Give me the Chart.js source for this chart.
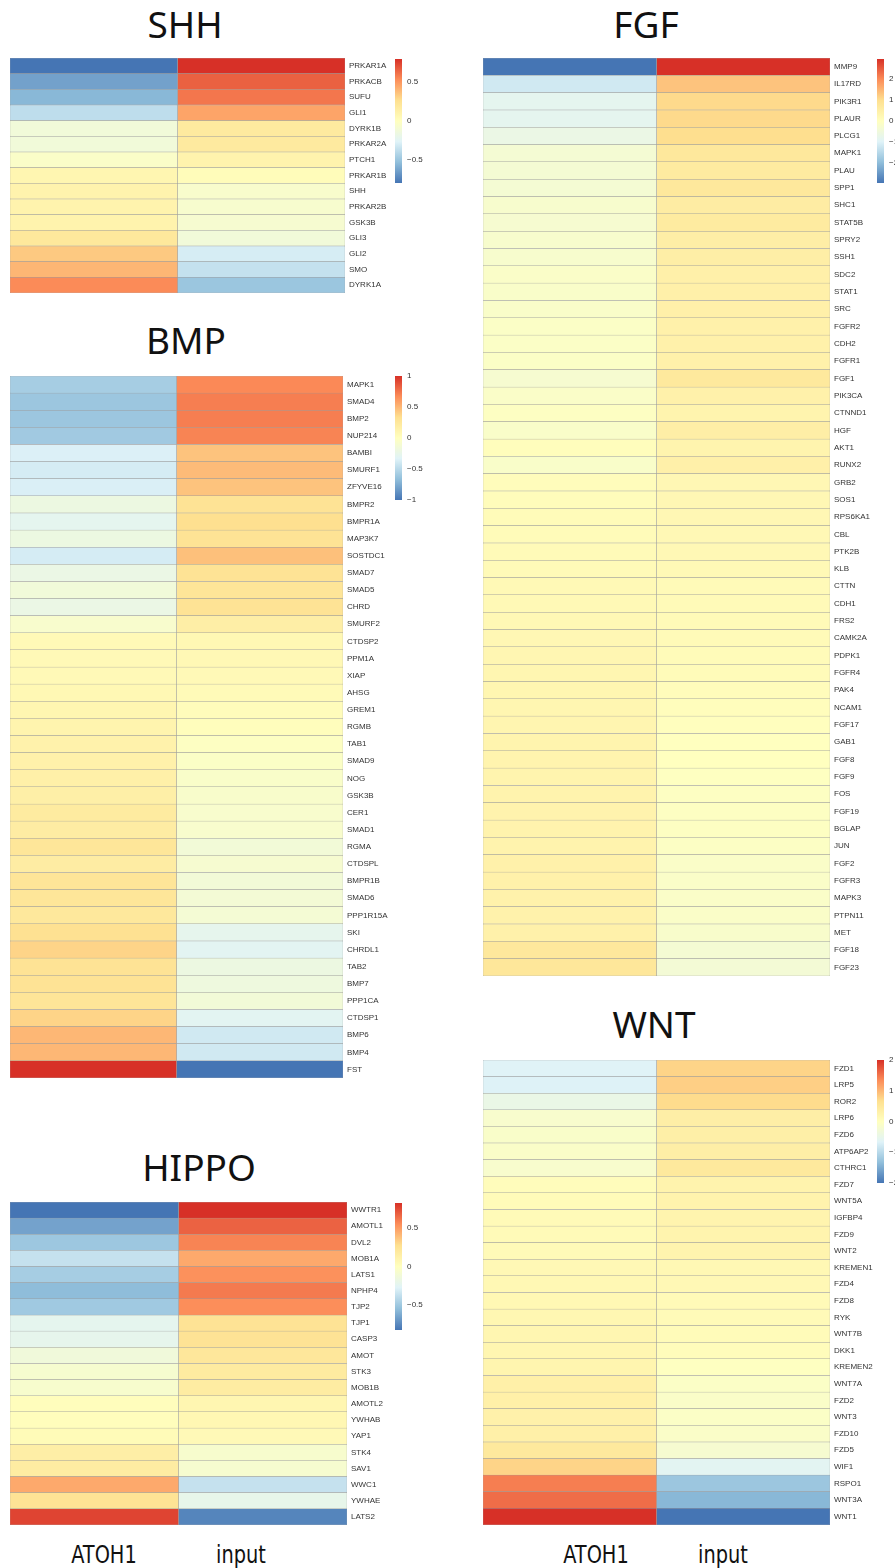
<!DOCTYPE html>
<html>
<head>
<meta charset="utf-8">
<script src="https://cdn.jsdelivr.net/npm/chart.js@4.4.0/dist/chart.umd.min.js"></script>
<style>
body { margin: 0; background: #fff; width: 895px; height: 1568px; position: relative; overflow: hidden; }
canvas { position: absolute; }
.title { position: absolute; font-family: "Noto Sans", "Open Sans", sans-serif; font-size: 37px; line-height: 1; color: #111; transform: translateX(-50%); white-space: nowrap; }
.col { position: absolute; font-family: "Liberation Sans Narrow", "DejaVu Sans Condensed", sans-serif; font-size: 25px; line-height: 1; color: #111; transform: translateX(-50%) scaleX(0.86); white-space: nowrap; }
</style>
</head>
<body>
<div class="title" style="left:185px; top:5px">SHH</div>
<div class="title" style="left:186px; top:321px">BMP</div>
<div class="title" style="left:199px; top:1148px">HIPPO</div>
<div class="title" style="left:646px; top:5px">FGF</div>
<div class="title" style="left:654px; top:1005px">WNT</div>

<div class="col" style="left:104px; top:1542px">ATOH1</div>
<div class="col" style="left:241px; top:1542px">input</div>
<div class="col" style="left:596px; top:1542px">ATOH1</div>
<div class="col" style="left:723px; top:1542px">input</div>

<canvas id="shh" width="380" height="235" style="left:10px; top:58px"></canvas>
<canvas id="bmp" width="380" height="702" style="left:10px; top:376px"></canvas>
<canvas id="hippo" width="384" height="323" style="left:10px; top:1202px"></canvas>
<canvas id="fgf" width="392" height="918" style="left:483px; top:58px"></canvas>
<canvas id="wnt" width="392" height="465" style="left:483px; top:1060px"></canvas>

<canvas id="shhKey" width="45" height="136" style="left:395px; top:53px"></canvas>
<canvas id="bmpKey" width="45" height="136" style="left:395px; top:370px"></canvas>
<canvas id="hippoKey" width="45" height="139" style="left:395px; top:1197px"></canvas>
<canvas id="fgfKey" width="30" height="136" style="left:877px; top:53px"></canvas>
<canvas id="wntKey" width="30" height="135" style="left:877px; top:1054px"></canvas>

<script>
// row-centred expression per pathway, columns ATOH1 / input
const shhGenes = ['PRKAR1A','PRKACB','SUFU','GLI1','DYRK1B','PRKAR2A','PTCH1','PRKAR1B','SHH','PRKAR2B','GSK3B','GLI3','GLI2','SMO','DYRK1A'];
const shhAtoh1 = [-0.8,-0.64,-0.56,-0.38,-0.12,-0.12,-0.04,0.08,0.1,0.1,0.1,0.2,0.34,0.4,0.54];
const shhInput = [0.8,0.66,0.6,0.46,0.18,0.18,0.1,0.03,-0.06,-0.07,-0.08,-0.12,-0.3,-0.36,-0.5];

const bmpGenes = ['MAPK1','SMAD4','BMP2','NUP214','BAMBI','SMURF1','ZFYVE16','BMPR2','BMPR1A','MAP3K7','SOSTDC1','SMAD7','SMAD5','CHRD','SMURF2','CTDSP2','PPM1A','XIAP','AHSG','GREM1','RGMB','TAB1','SMAD9','NOG','GSK3B','CER1','SMAD1','RGMA','CTDSPL','BMPR1B','SMAD6','PPP1R15A','SKI','CHRDL1','TAB2','BMP7','PPP1CA','CTDSP1','BMP6','BMP4','FST'];
const bmpAtoh1 = [-0.58,-0.62,-0.62,-0.6,-0.35,-0.38,-0.36,-0.2,-0.28,-0.2,-0.38,-0.22,-0.15,-0.22,-0.08,0.06,0.06,0.06,0.08,0.1,0.12,0.14,0.15,0.16,0.17,0.22,0.2,0.27,0.2,0.28,0.27,0.25,0.32,0.38,0.3,0.3,0.28,0.38,0.5,0.5,1.0];
const bmpInput = [0.68,0.72,0.72,0.7,0.45,0.48,0.45,0.3,0.33,0.3,0.46,0.3,0.28,0.3,0.18,0.08,0.07,0.06,0.05,0.03,0.02,-0.02,-0.04,-0.06,-0.07,-0.08,-0.08,-0.14,-0.1,-0.14,-0.13,-0.12,-0.27,-0.3,-0.2,-0.18,-0.14,-0.3,-0.4,-0.4,-1.0];

const hippoGenes = ['WWTR1','AMOTL1','DVL2','MOB1A','LATS1','NPHP4','TJP2','TJP1','CASP3','AMOT','STK3','MOB1B','AMOTL2','YWHAB','YAP1','STK4','SAV1','WWC1','YWHAE','LATS2'];
const hippoAtoh1 = [-0.83,-0.66,-0.51,-0.37,-0.48,-0.56,-0.5,-0.23,-0.22,-0.13,-0.08,-0.07,0.02,0.02,0.04,0.15,0.17,0.46,0.25,0.77];
const hippoInput = [0.83,0.68,0.58,0.46,0.54,0.61,0.55,0.25,0.25,0.21,0.18,0.17,0.08,0.07,0.05,-0.07,-0.08,-0.37,-0.21,-0.77];

const fgfGenes = ['MMP9','IL17RD','PIK3R1','PLAUR','PLCG1','MAPK1','PLAU','SPP1','SHC1','STAT5B','SPRY2','SSH1','SDC2','STAT1','SRC','FGFR2','CDH2','FGFR1','FGF1','PIK3CA','CTNND1','HGF','AKT1','RUNX2','GRB2','SOS1','RPS6KA1','CBL','PTK2B','KLB','CTTN','CDH1','FRS2','CAMK2A','PDPK1','FGFR4','PAK4','NCAM1','FGF17','GAB1','FGF8','FGF9','FOS','FGF19','BGLAP','JUN','FGF2','FGFR3','MAPK3','PTPN11','MET','FGF18','FGF23'];
const fgfAtoh1 = [-2.95,-1.18,-0.83,-0.83,-0.65,-0.35,-0.35,-0.35,-0.24,-0.3,-0.24,-0.24,-0.15,-0.18,-0.18,-0.12,-0.12,-0.12,-0.3,-0.15,-0.06,-0.18,0.06,-0.18,0.09,0.09,0.12,0.12,0.15,0.15,0.18,0.18,0.21,0.24,0.27,0.3,0.3,0.3,0.32,0.35,0.35,0.35,0.38,0.38,0.38,0.38,0.44,0.44,0.41,0.41,0.44,0.74,0.77];
const fgfInput = [2.95,1.33,1.06,1.06,1.0,0.74,0.65,0.74,0.59,0.65,0.53,0.53,0.47,0.47,0.47,0.44,0.44,0.44,0.71,0.44,0.35,0.53,0.35,0.47,0.24,0.24,0.24,0.21,0.21,0.18,0.15,0.15,0.15,0.15,0.12,0.12,0.09,0.06,0.03,0,0,-0.03,-0.06,-0.06,-0.06,-0.09,-0.15,-0.15,-0.15,-0.15,-0.21,-0.35,-0.38];

const wntGenes = ['FZD1','LRP5','ROR2','LRP6','FZD6','ATP6AP2','CTHRC1','FZD7','WNT5A','IGFBP4','FZD9','WNT2','KREMEN1','FZD4','FZD8','RYK','WNT7B','DKK1','KREMEN2','WNT7A','FZD2','WNT3','FZD10','FZD5','WIF1','RSPO1','WNT3A','WNT1'];
const wntAtoh1 = [-0.66,-0.68,-0.46,-0.16,-0.12,-0.1,-0.16,0.06,0.08,0.1,0.1,0.1,0.14,0.16,0.16,0.18,0.2,0.2,0.22,0.32,0.32,0.3,0.32,0.48,0.76,1.44,1.56,2.0];
const wntInput = [0.76,0.8,0.7,0.36,0.34,0.36,0.48,0.26,0.26,0.24,0.24,0.24,0.16,0.14,0.1,0.1,0.08,0.06,-0.02,-0.08,-0.1,-0.08,-0.1,-0.2,-0.6,-1.24,-1.4,-2.0];

const columns = ['ATOH1', 'input'];
const palette = ['#4575B4','#91BFDB','#E0F3F8','#FFFFBF','#FEE090','#FC8D59','#D73027'];

function hexRgb(h) {
    return [parseInt(h.slice(1, 3), 16), parseInt(h.slice(3, 5), 16), parseInt(h.slice(5, 7), 16)];
}
const paletteRgb = palette.map(hexRgb);

function ramp(t) {
    t = Math.max(0, Math.min(1, t));
    const s = t * (paletteRgb.length - 1);
    const i = Math.min(Math.floor(s), paletteRgb.length - 2);
    const f = s - i;
    const a = paletteRgb[i], b = paletteRgb[i + 1];
    const c = a.map((v, k) => Math.round(v + (b[k] - v) * f));
    return `rgb(${c[0]},${c[1]},${c[2]})`;
}

const labelFont = { family: '"Liberation Sans", Arial, sans-serif', size: 8 };

function drawHeatmap(id, genes, atoh1, input, labelWidth) {
    const lo = Math.min(...atoh1, ...input);
    const hi = Math.max(...atoh1, ...input);
    const colour = v => ramp((v - lo) / (hi - lo));
    new Chart(document.getElementById(id), {
        type: 'bar',
        data: {
            labels: genes,
            datasets: [atoh1, input].map((vals, col) => ({
                label: columns[col],
                data: vals.map(() => [col, col + 1]),
                backgroundColor: vals.map(colour),
                borderColor: '#9c9c9c',
                borderWidth: 0.5,
                borderSkipped: false
            }))
        },
        options: {
            indexAxis: 'y',
            responsive: false,
            animation: false,
            grouped: false,
            barPercentage: 1,
            categoryPercentage: 1,
            layout: { padding: 0 },
            plugins: { legend: { display: false }, tooltip: { enabled: false } },
            scales: {
                x: { type: 'linear', min: 0, max: 2, display: false },
                y: {
                    position: 'right',
                    grid: { display: false, drawTicks: false },
                    border: { display: false },
                    ticks: { autoSkip: false, padding: 4, color: '#333', font: labelFont },
                    afterFit: s => { s.width = labelWidth; s.paddingTop = 0; s.paddingBottom = 0; }
                }
            }
        }
    });
}

function drawKey(id, atoh1, input, step, width) {
    const lo = Math.min(...atoh1, ...input);
    const hi = Math.max(...atoh1, ...input);
    new Chart(document.getElementById(id), {
        type: 'bar',
        data: {
            labels: [''],
            datasets: [{
                data: [[lo, hi]],
                borderWidth: 0,
                backgroundColor: c => {
                    const area = c.chart.chartArea;
                    if (!area) return null;
                    const g = c.chart.ctx.createLinearGradient(0, area.bottom, 0, area.top);
                    palette.forEach((p, i) => g.addColorStop(i / (palette.length - 1), p));
                    return g;
                }
            }]
        },
        options: {
            responsive: false,
            animation: false,
            barPercentage: 1,
            categoryPercentage: 1,
            layout: { padding: { top: 6, bottom: 6 } },
            plugins: { legend: { display: false }, tooltip: { enabled: false } },
            scales: {
                x: { display: false },
                y: {
                    position: 'right',
                    min: lo,
                    max: hi,
                    grid: { display: false, drawTicks: false },
                    border: { display: false },
                    ticks: {
                        stepSize: step,
                        includeBounds: false,
                        padding: 5,
                        color: '#333',
                        font: labelFont,
                        callback: v => (v < 0 ? '\u2212' : '') + Math.abs(v)
                    },
                    afterFit: s => { s.width = width - 7; s.paddingTop = 0; s.paddingBottom = 0; }
                }
            }
        }
    });
}

drawHeatmap('shh', shhGenes, shhAtoh1, shhInput, 45);
drawHeatmap('bmp', bmpGenes, bmpAtoh1, bmpInput, 47);
drawHeatmap('hippo', hippoGenes, hippoAtoh1, hippoInput, 47);
drawHeatmap('fgf', fgfGenes, fgfAtoh1, fgfInput, 45);
drawHeatmap('wnt', wntGenes, wntAtoh1, wntInput, 45);

drawKey('shhKey', shhAtoh1, shhInput, 0.5, 45);
drawKey('bmpKey', bmpAtoh1, bmpInput, 0.5, 45);
drawKey('hippoKey', hippoAtoh1, hippoInput, 0.5, 45);
drawKey('fgfKey', fgfAtoh1, fgfInput, 1, 30);
drawKey('wntKey', wntAtoh1, wntInput, 1, 30);
</script>
</body>
</html>
